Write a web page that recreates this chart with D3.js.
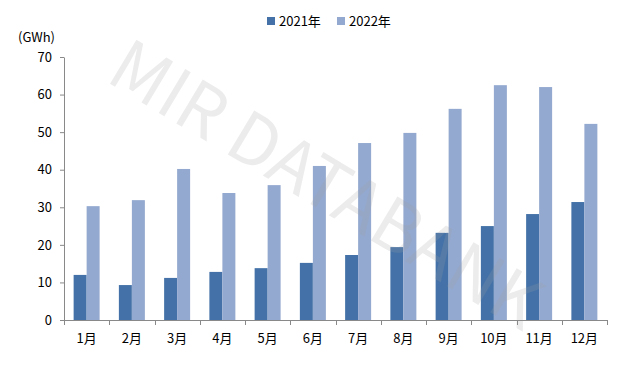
<!DOCTYPE html>
<html><head><meta charset="utf-8">
<script src="https://cdn.jsdelivr.net/npm/d3@7/dist/d3.min.js"></script>
<style>body{margin:0;background:#fff}svg{display:block}text{font-family:"Noto Sans CJK SC","Microsoft YaHei",sans-serif}</style>
</head><body><svg id="c" width="639" height="365"></svg>
<script>
const categories = ["1月","2月","3月","4月","5月","6月","7月","8月","9月","10月","11月","12月"];
const seriesNames = ["2021年","2022年"];
const values2021 = [12.0, 9.3, 11.2, 12.8, 13.8, 15.2, 17.3, 19.4, 23.2, 25.0, 28.2, 31.4];
const values2022 = [30.3, 31.9, 40.2, 33.8, 35.9, 41.0, 47.1, 49.8, 56.2, 62.5, 62.0, 52.2];
const yTicks = [0,10,20,30,40,50,60,70];
const unitLabel = "(GWh)";
const watermark = "MIR DATABANK";

const colors = ["#4472a8", "#94a9d0"];
const svg = d3.select("#c");
const m = {l:64, r:607, t:57, b:320};

const x = d3.scaleBand().domain(categories).range([m.l, m.r]).paddingInner(0).paddingOuter(0);
const y = d3.scaleLinear().domain([0,70]).range([m.b, m.t]);
const barW = 13;

// bars
const series = [values2021, values2022];
series.forEach((vals, si) => {
  svg.append("g").selectAll("rect").data(vals).join("rect")
    .attr("x", (d,i) => x(categories[i]) + x.bandwidth()/2 - barW + si*barW)
    .attr("y", d => y(d))
    .attr("width", barW)
    .attr("height", d => y(0) - y(d))
    .attr("fill", colors[si]);
});

// watermark
svg.append("text")
  .attr("transform", "translate(104,80) rotate(31)")
  .attr("font-family", "'Liberation Sans', Arial, sans-serif")
  .attr("font-size", 70)
  .attr("fill", "#a0a0a0")
  .attr("fill-opacity", 0.2)
  .text(watermark);

// y axis
const yAxis = svg.append("g").attr("transform", `translate(${m.l},0)`)
  .call(d3.axisLeft(y).tickValues(yTicks).tickSize(4).tickPadding(8).tickSizeOuter(0));
yAxis.select(".domain").attr("stroke", "#898989");
yAxis.selectAll(".tick line").attr("stroke", "#898989");
yAxis.selectAll("text").attr("font-size", 13).attr("fill", "#000")
  .attr("font-family", "'Noto Sans CJK SC', sans-serif");

// x axis
const xAxis = svg.append("g").attr("transform", `translate(0,${m.b})`)
  .call(d3.axisBottom(x).tickSize(0).tickPadding(14));
xAxis.select(".domain").attr("stroke", "#898989").attr("d", `M${m.l},0.5H${m.r}`);
xAxis.selectAll("text").attr("font-size", 13).attr("fill", "#000")
  .attr("font-family", "'Noto Sans CJK SC', sans-serif");
// boundary ticks
const bounds = categories.map(c => x(c)).concat([m.r]);
svg.append("g").selectAll("line").data(bounds).join("line")
  .attr("x1", d => Math.round(d)+0.5).attr("x2", d => Math.round(d)+0.5)
  .attr("y1", m.b).attr("y2", m.b+5).attr("stroke", "#898989");

// unit
svg.append("text").attr("x", 18).attr("y", 42).attr("font-size", 13).attr("fill", "#000").text(unitLabel);

// legend
const legX = [267, 337];
seriesNames.forEach((n, i) => {
  svg.append("rect").attr("x", legX[i]).attr("y", 17).attr("width", 8).attr("height", 8).attr("fill", colors[i]);
  svg.append("text").attr("x", legX[i]+12).attr("y", 26).attr("font-size", 13).attr("fill", "#000").text(n);
});
</script></body></html>
